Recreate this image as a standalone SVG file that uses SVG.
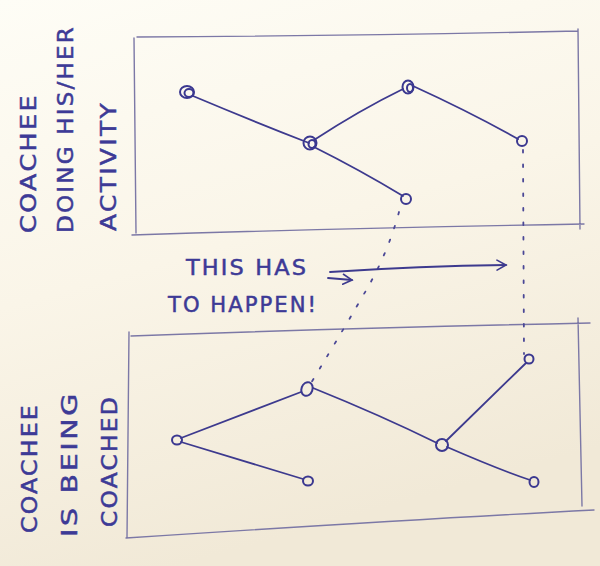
<svg xmlns="http://www.w3.org/2000/svg" width="600" height="566" viewBox="0 0 600 566">
<defs>
<linearGradient id="bg" x1="0" y1="0" x2="0.3" y2="1">
<stop offset="0" stop-color="#fefdf6"/>
<stop offset="0.5" stop-color="#faf5e8"/>
<stop offset="1" stop-color="#f1e9d7"/>
</linearGradient>
<marker id="chev" viewBox="0 0 12 12" refX="10" refY="6" markerWidth="12" markerHeight="12" markerUnits="userSpaceOnUse" orient="auto">
<path d="M1,1 L10,6 L1,11" fill="none" stroke="#3d3a8e" stroke-width="1.6" stroke-linecap="round"/>
</marker>
</defs>
<style>
.frame{fill:none;stroke:#7c78a6;stroke-width:1.4;stroke-linecap:round}
.edge{fill:none;stroke:#3d3a8e;stroke-width:1.8;stroke-linecap:round}
.dots{fill:none;stroke:#4a4796;stroke-width:1.8;stroke-linecap:round;stroke-dasharray:2.5 12}
.node{fill:none;stroke:#3b3890;stroke-width:2}
.lbl{font-family:"DejaVu Sans",sans-serif;font-size:21px;fill:#3d3a96;stroke:#3d3a96;stroke-width:0.5;letter-spacing:2px}
</style>
<rect width="600" height="566" fill="url(#bg)"/>

<g id="top-box">
<path class="frame" d="M134,38 L136,233 M137,37 Q350,36 578,31 M578,29 L580,229 M132,235 Q350,228 584,224"/>
</g>
<g id="bottom-box">
<path class="frame" d="M131,336 Q350,328 590,323 M129,332 L127,538 M578,318 L582,506 M126,538 Q400,520 594,510"/>
</g>

<g id="connectors">
<path class="edge" d="M193,96 Q250,120 309,143"/>
<path class="edge" d="M314,140 Q360,110 403,89"/>
<path class="edge" d="M314,147 Q360,170 403,196"/>
<path class="edge" d="M413,86 Q470,112 518,139"/>
<path class="edge" d="M181,438 L301,392"/>
<path class="edge" d="M181,442 L303,479"/>
<path class="edge" d="M313,388 Q380,415 437,443"/>
<path class="edge" d="M446,441 L526,363"/>
<path class="edge" d="M447,447 Q500,470 530,480"/>
<path class="dots" d="M399,212 Q388,252 368,287 T311,383"/>
<path class="dots" d="M523,150 L524,354"/>
<path class="edge" d="M330,272 Q420,266 506,265" marker-end="url(#chev)"/>
<path class="edge" d="M328,278 Q340,279 352,280" marker-end="url(#chev)"/>
</g>

<g id="n-top-1"><ellipse class="node" cx="187" cy="92" rx="7" ry="6"/><ellipse class="node" cx="189" cy="93" rx="4.5" ry="4"/></g>
<g id="n-top-2"><ellipse class="node" cx="310" cy="143" rx="6.5" ry="6.5"/><ellipse class="node" cx="312" cy="144" rx="3.5" ry="4"/></g>
<g id="n-top-3"><ellipse class="node" cx="408" cy="87" rx="5.5" ry="6.5"/><ellipse class="node" cx="410" cy="88" rx="3" ry="4"/></g>
<g id="n-top-4"><ellipse class="node" cx="522" cy="141" rx="5" ry="5"/></g>
<g id="n-top-5"><ellipse class="node" cx="406" cy="199" rx="5" ry="5"/></g>

<g id="n-bot-1"><ellipse class="node" cx="177" cy="440" rx="5" ry="4.5"/></g>
<g id="n-bot-2"><ellipse class="node" cx="307" cy="389" rx="5.5" ry="7" transform="rotate(20 307 389)"/></g>
<g id="n-bot-3"><ellipse class="node" cx="308" cy="481" rx="5" ry="4.5" stroke-width="2.6"/></g>
<g id="n-bot-4"><ellipse class="node" cx="442" cy="445" rx="6" ry="6"/></g>
<g id="n-bot-5"><ellipse class="node" cx="529" cy="359" rx="4.5" ry="4.5"/></g>
<g id="n-bot-6"><ellipse class="node" cx="534" cy="482" rx="4.5" ry="5"/></g>

<g id="label-top">
<text class="lbl" transform="translate(36,233) rotate(-90)" textLength="140" lengthAdjust="spacingAndGlyphs">COACHEE</text>
<text class="lbl" transform="translate(73,233) rotate(-90)" textLength="208" lengthAdjust="spacingAndGlyphs">DOING HIS/HER</text>
<text class="lbl" transform="translate(116,231) rotate(-90)" textLength="130" lengthAdjust="spacingAndGlyphs">ACTIVITY</text>
</g>
<g id="label-bottom">
<text class="lbl" transform="translate(37,533) rotate(-90)" textLength="130" lengthAdjust="spacingAndGlyphs">COACHEE</text>
<text class="lbl" transform="translate(77,537) rotate(-90)" textLength="146" lengthAdjust="spacingAndGlyphs">IS BEING</text>
<text class="lbl" transform="translate(117,527) rotate(-90)" textLength="132" lengthAdjust="spacingAndGlyphs">COACHED</text>
</g>
<g id="label-middle">
<text class="lbl" x="186" y="275" textLength="122" lengthAdjust="spacingAndGlyphs">THIS HAS</text>
<text class="lbl" x="168" y="312" textLength="150" lengthAdjust="spacingAndGlyphs">TO HAPPEN!</text>
</g>
</svg>
